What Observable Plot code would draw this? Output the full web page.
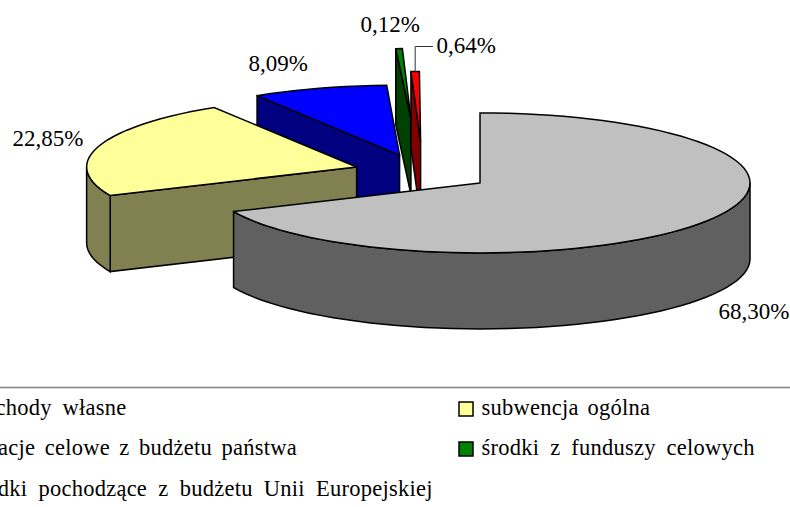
<!DOCTYPE html>
<html lang="pl">
<head>
<meta charset="utf-8">
<script src="https://cdn.jsdelivr.net/npm/d3@7"></script>
<script src="https://cdn.jsdelivr.net/npm/@observablehq/plot@0.6"></script>
<style>
html,body{margin:0;padding:0;background:#fff;overflow:hidden}
svg{display:block}
.lg text{letter-spacing:.25px}
</style>
</head>
<body>
<div id="chart"></div>
<script>
// data
const categories = ["dochody własne","subwencja ogólna","dotacje celowe z budżetu państwa","środki z funduszy celowych","środki pochodzące z budżetu Unii Europejskiej"];
const shares = [68.30,22.85,8.09,0.12,0.64];
const topColors = ["#C0C0C0","#FFFF99","#0000FF","#008000","#FF0000"];
const sideColors = ["#606060","#808050","#000080","#004000","#800000"];

// pie layout (projection of the exploded 3D pie)
const explode = [69,69,69,213,124];
const nudgeX = [0.5,1,-1.5,-1.3,1.5];
const nudgeY = [-0.5,-1.5,-1.5,0,0];
const minSweep = [0,0,0,1.4,1.8];
const labelX = [718,12,248,360,436];
const labelY = [318,145,70,31,52];
const legendX = [-50,459,-54,459,-53];
const legendRow = [0,0,1,1,2];
const wordGap = [5,3,3.6,5,5.3];
const cx=421.1, cy=173.2, rx=270, ry=70, depth=76, deg=Math.PI/180;

const total = d3.sum(shares);
let acc = 0;
const slices = shares.map((v,i)=>{
  let a0=acc/total*360; acc+=v; let a1=acc/total*360; const mid=(a0+a1)/2, m=mid*deg;
  if(minSweep[i]>0){a0=mid-minSweep[i]/2;a1=mid+minSweep[i]/2;}
  return {i,a0,a1,ox:cx+explode[i]*Math.sin(m)+nudgeX[i],oy:cy-explode[i]*Math.cos(m)*ry/rx+nudgeY[i]};
});
const rim=(s,a)=>({x:s.ox+rx*Math.sin(a*deg),y:s.oy-ry*Math.cos(a*deg)});
function arc(s,a0,a1){
  const n=Math.max(1,Math.ceil(Math.abs(a1-a0)/3));
  return d3.range(n+1).map(k=>rim(s,a0+(a1-a0)*k/n));
}
const down=p=>({x:p.x,y:p.y+depth});
const polys=[];
function add(pts,fill){
  const id=polys.length?polys[polys.length-1].id+1:0;
  [...pts,pts[0]].forEach(p=>polys.push({id,x:p.x,y:p.y,fill}));
}
// back to front
[3,4,2,1,0].forEach(i=>{
  const s=slices[i], apex={x:s.ox,y:s.oy}, side=sideColors[i];
  if(s.a0>=180){const r=rim(s,s.a0);add([apex,r,down(r),down(apex)],side);}
  const w0=Math.max(s.a0,90), w1=Math.min(s.a1,270);
  if(w1>w0){const t=arc(s,w0,w1);add([...t,...t.map(down).reverse()],side);}
  add([apex,...arc(s,s.a0,s.a1)],topColors[i]);
});

const red=rim(slices[4],(slices[4].a0+slices[4].a1)/2);
const leader=[{x:red.x,y:red.y},{x:red.x,y:46},{x:432,y:46}];

const labels=shares.map((v,i)=>({x:labelX[i],y:labelY[i],t:d3.format(".2f")(v).replace(".",",")+"%"}));
const legendRows=[414,454,495];
const legend=categories.map((c,i)=>({c,x:legendX[i],y:legendRows[legendRow[i]],color:topColors[i]}));
const font="Liberation Serif";

const plot=Plot.plot({
  width:790,height:507,margin:0,
  x:{domain:[0,790],range:[0,790],axis:null},
  y:{domain:[0,507],range:[0,507],axis:null},
  color:{type:"identity"},
  marks:[
    Plot.line(polys,{x:"x",y:"y",z:"id",fill:"fill",stroke:"#000",strokeWidth:1.5,strokeLinejoin:"miter",strokeMiterlimit:3}),
    Plot.line(leader,{x:"x",y:"y",stroke:"#333",strokeWidth:1}),
    Plot.text(labels,{x:"x",y:"y",text:"t",textAnchor:"start",lineAnchor:"bottom",fontFamily:font,fontSize:23,fill:"#000"}),
    Plot.ruleY([387],{stroke:"#808080",strokeWidth:1.5}),
    Plot.rect(legend,{x1:"x",x2:d=>d.x+14,y1:d=>d.y-12,y2:d=>d.y+2,fill:"color",stroke:"#000",strokeWidth:1.5}),
    Plot.text(legend,{x:d=>d.x+22,y:"y",text:"c",textAnchor:"start",lineAnchor:"bottom",fontFamily:font,fontSize:22.5,fill:"#000",className:"lg"})
  ]
});
document.getElementById("chart").append(plot);
plot.querySelectorAll(".lg text").forEach((t,i)=>{t.style.wordSpacing=wordGap[i]+"px";});
</script>
</body>
</html>
